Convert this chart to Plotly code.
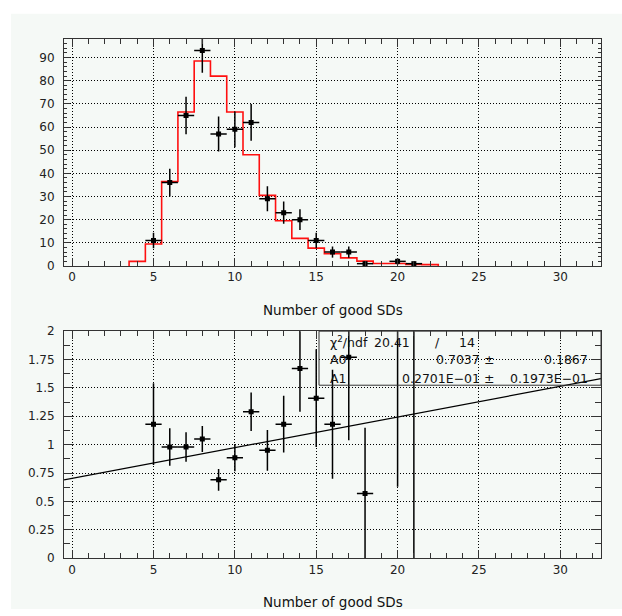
import plotly.graph_objects as go

# ---------------- data ----------------
# top: measured counts per number of good SDs
top_x = [5, 6, 7, 8, 9, 10, 11, 12, 13, 14, 15, 16, 17, 18, 20, 21]
top_y = [11, 36, 65, 93, 57, 59, 62, 29, 23, 20, 11, 6, 6, 1, 2, 1]
top_err = [3.3, 6.0, 8.1, 9.6, 7.6, 7.7, 7.9, 5.4, 4.8, 4.5, 3.3, 2.4, 2.4, 1.0, 1.4, 1.0]

# top: simulated histogram (red), bin centres and contents
hist_x = [4, 5, 6, 7, 8, 9, 10, 11, 12, 13, 14, 15, 16, 17, 18, 19, 20, 21, 22]
hist_y = [2.0, 9.5, 36.5, 66.5, 88.5, 82.0, 66.5, 48.0, 30.5, 19.5, 11.9, 7.7, 5.3,
          3.5, 2.1, 1.1, 1.1, 0.7, 0.6]

# bottom: ratio data / simulation
rat_x = [5, 6, 7, 8, 9, 10, 11, 12, 13, 14, 15, 16, 17, 18, 20, 21]
rat_y = [1.18, 0.98, 0.98, 1.05, 0.69, 0.885, 1.29, 0.95, 1.18, 1.67, 1.41, 1.18, 1.77,
         0.57, 2.35, 2.6]
rat_err = [0.36, 0.165, 0.13, 0.115, 0.095, 0.12, 0.17, 0.18, 0.25, 0.38, 0.43, 0.48,
           0.73, 0.58, 1.72, 2.6]

# fit parameters (linear fit to the ratio)
A0 = 0.7037
A1 = 0.02701
fit_x = [-0.5, 32.5]

x_title = "Number of good SDs"
stats_rows = [
    ["χ<sup>2</sup>/ndf", "20.41", "/", "14"],
    ["A0", "0.7037", "±", "0.1867"],
    ["A1", "0.2701E−01", "±", "0.1973E−01"],
]

# ---------------- geometry helpers ----------------
W, H = 622, 616


def fx(px):
    return px / W


def fy(py):
    return 1 - py / H


FONT = "DejaVu Sans"
BG = "#f5f9f6"
FRAME = "#333333"
GRID_DASH = "1px,2px"

fig = go.Figure()

# histogram as a step line
hx = [hist_x[0] - 0.5] + [c - 0.5 for c in hist_x] + [hist_x[-1] + 0.5, hist_x[-1] + 0.5]
hy = [0] + hist_y + [hist_y[-1], 0]
fig.add_trace(go.Scatter(x=hx, y=hy, mode="lines", line=dict(color="#ff1010", width=1.6, shape="hv"),
                         xaxis="x", yaxis="y", showlegend=False, hoverinfo="skip"))

fig.add_trace(go.Scatter(
    x=top_x, y=top_y, mode="markers",
    marker=dict(symbol="square", size=5, color="black"),
    error_y=dict(type="data", array=top_err, color="black", thickness=1.5, width=0),
    error_x=dict(type="constant", value=0.5, color="black", thickness=1.5, width=0),
    xaxis="x", yaxis="y", showlegend=False))

fig.add_trace(go.Scatter(x=fit_x, y=[A0 + A1 * v for v in fit_x], mode="lines",
                         line=dict(color="black", width=1.2), xaxis="x2", yaxis="y2",
                         showlegend=False, hoverinfo="skip"))

fig.add_trace(go.Scatter(
    x=rat_x, y=rat_y, mode="markers",
    marker=dict(symbol="square", size=5, color="black"),
    error_y=dict(type="data", array=rat_err, color="black", thickness=1.5, width=0),
    error_x=dict(type="constant", value=0.5, color="black", thickness=1.5, width=0),
    xaxis="x2", yaxis="y2", showlegend=False))

xd = [fx(64), fx(601)]
common_x = dict(range=[-0.5, 32.5], tick0=0, dtick=5, ticks="inside", ticklen=8,
                tickcolor=FRAME, showline=True, linecolor=FRAME, linewidth=1, mirror="allticks",
                showgrid=True, gridcolor="black", griddash=GRID_DASH, gridwidth=1, zeroline=False,
                tickfont=dict(family=FONT, size=12, color="#222"),
                minor=dict(dtick=1, ticks="inside", ticklen=5, tickcolor=FRAME, showgrid=False),
                domain=xd)
common_y = dict(ticks="inside", tickcolor=FRAME, showline=True, linecolor=FRAME, linewidth=1,
                mirror="allticks", showgrid=True, gridcolor="black", griddash=GRID_DASH, gridwidth=1,
                zeroline=False, tickfont=dict(family=FONT, size=12, color="#222"),
                ticklabelstandoff=6)

fig.update_layout(
    width=W, height=H, margin=dict(l=0, r=0, t=0, b=0),
    paper_bgcolor="white", plot_bgcolor=BG,
    xaxis=dict(common_x, anchor="y"),
    yaxis=dict(common_y, range=[0, 98.2], tick0=0, dtick=10, ticklen=6,
               minor=dict(dtick=2, ticks="inside", ticklen=3, tickcolor=FRAME, showgrid=False),
               domain=[fy(265), fy(32.3)], anchor="x"),
    xaxis2=dict(common_x, anchor="y2"),
    yaxis2=dict(common_y, range=[0, 2], tick0=0, dtick=0.25, ticklen=10,
                minor=dict(dtick=0.125, ticks="inside", ticklen=6, tickcolor=FRAME, showgrid=False),
                domain=[fy(564), fy(331.7)], anchor="x2"),
)

shapes = [
    dict(type="rect", xref="paper", yref="paper", x0=fx(11), x1=1, y0=0, y1=fy(7),
         fillcolor=BG, line=dict(width=0), layer="below"),
    dict(type="rect", xref="paper", yref="paper", x0=fx(319), x1=fx(601), y0=fy(387), y1=fy(331.7),
         fillcolor="rgba(0,0,0,0)", line=dict(color=FRAME, width=1), layer="above"),
]
fig.update_layout(shapes=shapes)

ann = []
for yc in (310, 609):
    ann.append(dict(text=x_title, x=fx(332.5), y=fy(yc), xref="paper", yref="paper",
                    xanchor="center", yanchor="middle", showarrow=False,
                    font=dict(family=FONT, size=13.5, color="#111")))

row_y = [343, 361, 380]
# (x pixel, anchor) for each column
cols = [(328, "left"), (482, "right"), (489, "center"), (590, "right")]
row1_cols = [(328, "left"), (412, "right"), (437, "center"), (477, "right")]
for i, row in enumerate(stats_rows):
    cset = row1_cols if i == 0 else cols
    for (px, anc), txt in zip(cset, row):
        ann.append(dict(text=txt, x=fx(px), y=fy(row_y[i]), xref="paper", yref="paper",
                        xanchor=anc, yanchor="middle", showarrow=False,
                        font=dict(family=FONT, size=12.5, color="#111")))
fig.update_layout(annotations=ann)

fig.write_html("out.html")
